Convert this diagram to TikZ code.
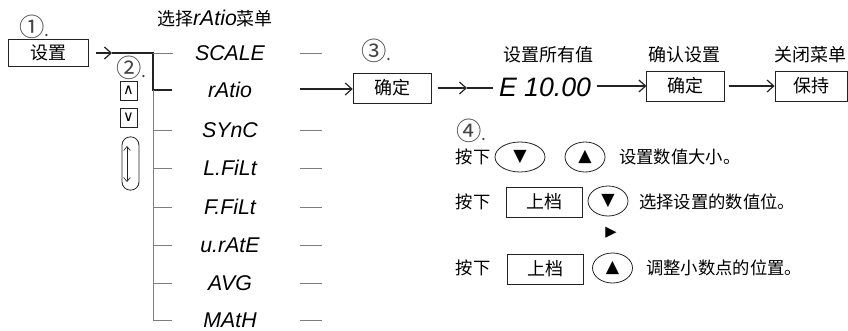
\documentclass[tikz,border=0pt]{standalone}
\usepackage{fontspec}
\setmainfont{Noto Sans CJK SC}
\newfontfamily\segfont{Liberation Sans}
\newfontfamily\symfont{DejaVu Sans}
\usetikzlibrary{
    shapes.geometric,
    arrows.meta,
    positioning
}
\definecolor{Cline}{RGB}{35, 35, 35}
\definecolor{Cgray}{RGB}{125, 125, 125}
\newcommand{\seg}[1]{{\segfont\itshape #1}}
\newcommand{\stepmark}[1]{{\fontsize{19pt}{20pt}\selectfont #1}{\fontsize{13pt}{15pt}\selectfont .}}
\tikzset{
    keybox/.style={
        rectangle, draw=Cline, line width=0.6pt, fill=white,
        minimum height=22.5pt, inner sep=2pt,
        font=\fontsize{13.5pt}{15pt}\selectfont
    },
    smallkey/.style={
        rectangle, draw=Cline, line width=0.6pt,
        minimum width=12.75pt, minimum height=14.25pt, inner sep=0pt,
        font=\symfont\fontsize{11pt}{12pt}\selectfont
    },
    roundkey/.style={
        ellipse, draw=Cline, line width=0.6pt,
        minimum width=30pt, minimum height=22.5pt, inner sep=0pt,
        font=\symfont\fontsize{13pt}{14pt}\selectfont
    },
    cjk/.style={inner sep=0pt, font=\fontsize{13pt}{15pt}\selectfont},
    head/.style={inner sep=0pt, font=\fontsize{13.5pt}{15pt}\selectfont},
    stepno/.style={inner sep=0pt, anchor=base west, text=Cline!85},
    segtxt/.style={inner sep=0pt, font=\segfont\itshape\fontsize{16pt}{17pt}\selectfont},
    carr/.style={-{Straight Barb[length=5pt, width=9pt]}, line width=0.9pt, Cline},
    hot/.style={line width=1.2pt, Cline},
    cold/.style={line width=0.7pt, Cgray},
}

\begin{document}
\begin{tikzpicture}[x=0.75pt, y=-0.75pt]
    \useasboundingbox (0,0) rectangle (848,331);

    % step 1
    \node [stepno] (no1) at (19,37) {\stepmark{①}};
    \node [head] (pick) at (215,19) {选择{\fontsize{16pt}{17pt}\seg{rAtio}}菜单};
    \node [keybox, minimum width=60pt, minimum height=20pt] (setkey) at (48,53) {设置};

    % step 2: menu list
    \node [stepno] (no2) at (116,78) {\stepmark{②}};
    \node [smallkey] (upkey) at (128.5,90.5) {∧};
    \node [smallkey] (dnkey) at (128.5,117.5) {∨};
    \node [draw=Cline, line width=0.6pt, rounded corners=6.3pt,
        minimum width=12.75pt, minimum height=40pt] (roll) at (130.5,163.5) {};
    \coordinate (rolltop) at (127,146);
    \coordinate (rollbot) at (127,182);
    \draw [{Straight Barb[length=3pt, width=5pt]}-{Straight Barb[length=3pt, width=5pt]},
        line width=0.5pt, Cline] (rolltop) -- (rollbot);

    \foreach \n/\t/\y in {scale/SCALE/53, ratio/rAtio/90, sync/SYnC/130,
        lfilt/L.FiLt/168, ffilt/F.FiLt/207, urate/u.rAtE/245,
        avg/AVG/283, math/MAtH/320} {
        \node [segtxt] (\n) at (230,\y) {\t};
    }

    \coordinate (tip) at (112,53);
    \coordinate (t0) at (153,53);
    \coordinate (t1) at (153,90);
    \coordinate (tn) at (153,320);
    \draw [carr] ([xshift=6pt]setkey.east) -- (tip);
    \draw [hot] (tip) -- (t0) -- (t1) -- ++(19,0);
    \draw [cold] (t0) -- ++(20,0);
    \draw [cold] (t1) -- (tn);
    \foreach \y in {130,168,207,245,283,320} {
        \draw [cold] (153,\y) -- ++(19,0);
    }
    \foreach \y in {53,130,168,207,245,283,320} {
        \draw [cold] (300,\y) -- ++(22,0);
    }

    % step 3: set value
    \node [stepno] (no3) at (361,61) {\stepmark{③}};
    \node [keybox, minimum width=59pt] (ok) at (392.5,88) {确定};
    \coordinate (rfrom) at (300,89);
    \draw [carr] (rfrom) -- (rfrom -| ok.west);

    \node [head] (allval) at (548,55) {设置所有值};
    \node [inner sep=0pt, font=\segfont\itshape\fontsize{20pt}{21pt}\selectfont]
        (val) at (545,87) {E 10.00};
    \coordinate (vmid) at (467,88);
    \draw [carr] ([xshift=4pt]ok.east) -- (vmid);
    \draw [hot, line width=0.9pt] (vmid) -- ([xshift=-4pt]val.west |- vmid);

    \node [head] (confirm) at (684,55) {确认设置};
    \node [keybox, minimum width=58pt] (ok2) at (685.5,86) {确定};
    \node [head] (close) at (810,55) {关闭菜单};
    \node [keybox, minimum width=54pt] (keep) at (811,86) {保持};
    \draw [carr] ([xshift=4pt]val.east |- ok2) -- (ok2.west);
    \draw [carr] ([xshift=3pt]ok2.east) -- (keep.west);

    % step 4: keys
    \node [stepno] (no4) at (456,141) {\stepmark{④}};

    \node [cjk] (press1) at (473,157) {按下};
    \node [roundkey, minimum width=37.5pt] (dn1) at (520,157) {▼};
    \node [roundkey] (up1) at (585,157) {▲};
    \node [cjk, anchor=west] (txt1) at (619,157) {设置数值大小。};

    \node [cjk] (press2) at (473,202) {按下};
    \node [keybox, minimum width=57pt] (shift1) at (544,202) {上档};
    \node [roundkey] (dn2) at (608,201) {▼};
    \node [cjk, anchor=west] (txt2) at (639,202) {选择设置的数值位。};

    \node [inner sep=0pt, font=\symfont\fontsize{11pt}{12pt}\selectfont] (mark) at (611,233) {▶};

    \node [cjk] (press3) at (473,268) {按下};
    \node [keybox, minimum width=57pt] (shift2) at (545.5,269) {上档};
    \node [roundkey] (up2) at (612.5,268) {▲};
    \node [cjk, anchor=west] (txt3) at (646,268) {调整小数点的位置。};

\end{tikzpicture}
\end{document}
